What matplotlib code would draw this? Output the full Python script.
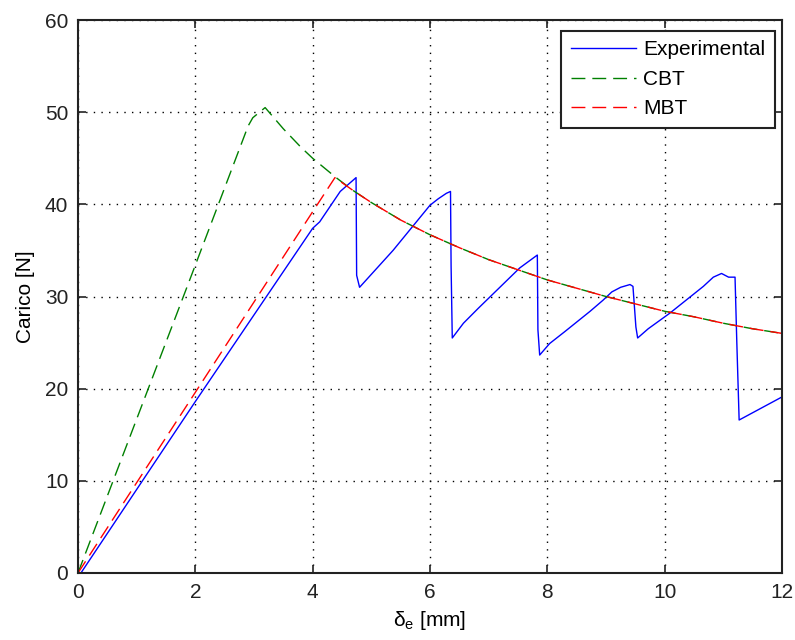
import matplotlib
matplotlib.use('Agg')
import matplotlib.pyplot as plt

plt.rcParams['font.family'] = ['Liberation Sans', 'DejaVu Sans']
plt.rcParams['mathtext.fontset'] = 'custom'
plt.rcParams['mathtext.rm'] = 'Liberation Sans'
plt.rcParams['mathtext.it'] = 'Liberation Sans'

# experimental load-displacement curve
exp_x = [0.05, 2.0, 4.0, 4.12, 4.47, 4.74, 4.75, 4.80, 5.37, 6.0, 6.14, 6.28, 6.35,
         6.36, 6.38, 6.57, 6.82, 7.53, 7.83, 7.84, 7.87, 8.04, 8.3, 8.73, 8.95, 9.1,
         9.25, 9.41, 9.46, 9.51, 9.54, 9.72, 10.09, 10.66, 10.83, 10.97, 11.09, 11.2,
         11.23, 11.27, 12.0]
exp_y = [0.0, 18.6, 37.4, 38.1, 41.4, 42.9, 32.3, 31.0, 35.0, 39.9, 40.6, 41.2, 41.4,
         33.3, 25.5, 27.1, 28.7, 33.1, 34.5, 26.4, 23.65, 24.9, 26.2, 28.4, 29.6, 30.5,
         31.0, 31.3, 31.1, 26.7, 25.5, 26.5, 28.2, 31.1, 32.1, 32.5, 32.1, 32.1,
         25.1, 16.6, 19.1]

# propagation branch shared by both models
prop_x = [4.69, 5.0, 5.5, 6.0, 6.5, 7.0, 7.5, 8.0, 8.5, 9.0, 9.5, 10.0, 10.5, 11.0, 11.5, 12.0]
prop_y = [41.5, 40.2, 38.3, 36.7, 35.3, 34.0, 32.9, 31.8, 30.9, 30.0, 29.2, 28.4, 27.8, 27.1, 26.5, 26.0]

cbt_x = [0.0, 1.0, 2.0, 2.9, 2.98, 3.19, 3.5, 3.8, 4.0, 4.4] + prop_x
cbt_y = [0.0, 16.7, 33.4, 48.5, 49.4, 50.5, 48.2, 46.2, 45.0, 42.9] + prop_y

mbt_x = [0.0, 1.0, 2.0, 3.0, 4.0, 4.38] + prop_x
mbt_y = [0.0, 9.8, 19.6, 29.4, 39.2, 42.9] + prop_y

fig = plt.figure(figsize=(7.95, 6.4), dpi=100)
ax = fig.add_axes([0.0981, 0.1047, 0.8855, 0.8640])

ax.plot(exp_x, exp_y, color='#0000ff', lw=1.0, label='Experimental')
ax.plot(cbt_x, cbt_y, color='#008000', lw=1.0, dashes=(10, 5), label='CBT')
ax.plot(mbt_x, mbt_y, color='#ff0000', lw=1.0, dashes=(10, 5), label='MBT')

ax.set_xlim(0, 12)
ax.set_ylim(0, 60)
ax.set_xticks(range(0, 13, 2))
ax.set_yticks(range(0, 61, 10))
ax.set_axisbelow(True)
ax.grid(True, color='k', linestyle=(0, (1, 4.5)), lw=1.0)
ax.tick_params(direction='in', top=True, right=True, length=6, width=1.2,
               labelsize=15, pad=7, colors='#222222')
for s in ax.spines.values():
    s.set_linewidth(1.5)
    s.set_color('#222222')

ax.set_xlabel(r'δ$_\mathrm{e}$ [mm]', fontsize=15, labelpad=5)
ax.set_ylabel('Carico [N]', fontsize=15, labelpad=7)

leg = ax.legend(loc='upper right', bbox_to_anchor=(0.99, 0.9807), borderaxespad=0,
                fancybox=False, edgecolor='#222222', framealpha=1, fontsize=15,
                handlelength=3.15, handletextpad=0.32, borderpad=0.47, labelspacing=0.5)
leg.get_frame().set_linewidth(1.5)

plt.savefig('out.png', dpi=100)
